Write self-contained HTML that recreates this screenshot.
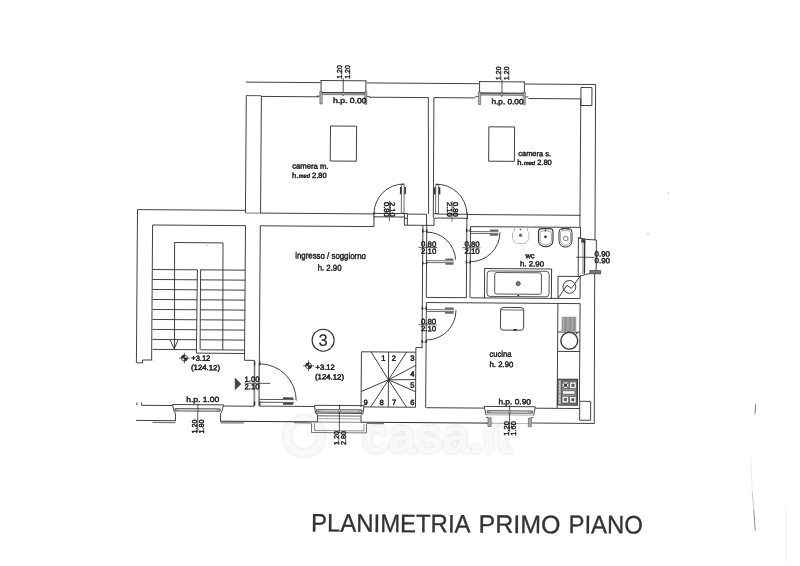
<!DOCTYPE html>
<html lang="it"><head><meta charset="utf-8"><title>Planimetria primo piano</title>
<style>
html,body{margin:0;padding:0;background:#fff}
body{width:800px;height:566px;overflow:hidden}
svg{display:block;font-family:"Liberation Sans",sans-serif;will-change:transform}
svg path,svg rect,svg circle,svg ellipse{stroke-linecap:butt}
</style></head><body>
<svg width="800" height="566" viewBox="0 0 800 566" fill="none">
<rect x="0" y="0" width="800" height="566" fill="#fff"/>
<defs><filter id="wm" x="-10%" y="-40%" width="120%" height="180%"><feGaussianBlur in="SourceAlpha" stdDeviation="2.2" result="b"/><feFlood flood-color="#000" flood-opacity="0.15"/><feComposite in2="b" operator="in"/><feMerge><feMergeNode/><feMergeNode in="SourceGraphic"/></feMerge></filter></defs>
<g filter="url(#wm)">
<circle cx="304" cy="436" r="17" stroke="#f9f9f9" stroke-width="6" fill="none"/>
<text x="362" y="453" font-size="50" fill="#f9f9f9" textLength="150" lengthAdjust="spacingAndGlyphs" transform="rotate(0 362 453)" font-weight="bold">casa.it</text>
</g>
<path d="M245.8 82.1L320.5 82.64" stroke="#2b2b2b" stroke-width="0.9"/>
<path d="M366.5 82.9L478.75 83.71" stroke="#2b2b2b" stroke-width="0.9"/>
<path d="M525 84L595.6 84.51" stroke="#2b2b2b" stroke-width="0.9"/>
<path d="M595.6 84.5L595 240" stroke="#2b2b2b" stroke-width="0.9"/>
<path d="M594.7 273.8L594.25 423.5" stroke="#2b2b2b" stroke-width="0.9"/>
<path d="M136 420.4L175.4 420.68" stroke="#2b2b2b" stroke-width="0.9"/>
<path d="M220.5 421.2L317.4 421.9" stroke="#2b2b2b" stroke-width="1"/>
<path d="M361 422.2L488 423.11" stroke="#2b2b2b" stroke-width="1"/>
<path d="M531 423L594.25 423.46" stroke="#2b2b2b" stroke-width="0.9"/>
<path d="M246.3 95.6L245.45 213" stroke="#2b2b2b" stroke-width="0.9"/>
<path d="M261.4 96L260.56 213" stroke="#2b2b2b" stroke-width="0.9"/>
<path d="M245.5 213L260.3 213.11" stroke="#555" stroke-width="0.8"/>
<path d="M137.5 209.6L245.5 210.38" stroke="#2b2b2b" stroke-width="0.9"/>
<path d="M137.5 209.6L136.4 362.8" stroke="#2b2b2b" stroke-width="0.9"/>
<path d="M246.3 95.6L261.3 95.71" stroke="#2b2b2b" stroke-width="0.8"/>
<path d="M261.3 96.4L319 96.82" stroke="#2b2b2b" stroke-width="0.9"/>
<path d="M369 97.2L428 97.62" stroke="#2b2b2b" stroke-width="0.9"/>
<path d="M433.75 97.6L475.4 97.9" stroke="#2b2b2b" stroke-width="0.9"/>
<path d="M528.5 98.5L580.8 98.88" stroke="#2b2b2b" stroke-width="0.9"/>
<path d="M428.3 97.2L428.6 214" stroke="#2b2b2b" stroke-width="0.9"/>
<path d="M433.9 97.6L433.3 217.8" stroke="#2b2b2b" stroke-width="0.9"/>
<path d="M580.8 98.9L579.88 226.8" stroke="#2b2b2b" stroke-width="0.9"/>
<rect x="581" y="87.5" width="11" height="18" stroke="#2b2b2b" stroke-width="0.9" fill="none" transform="rotate(0.41 581 87.5)"/>
<path d="M260.3 213.1L374 213.92" stroke="#2b2b2b" stroke-width="0.9"/>
<path d="M260.2 225.8L374 226.62" stroke="#2b2b2b" stroke-width="0.9"/>
<path d="M374 218L373.94 226.6" stroke="#2b2b2b" stroke-width="0.9"/>
<path d="M467.3 214.5L580.5 215.32" stroke="#2b2b2b" stroke-width="0.9"/>
<path d="M470.5 226.6L580.5 227.39" stroke="#2b2b2b" stroke-width="0.9"/>
<path d="M373.75 213.4L401.4 213.6" stroke="#2b2b2b" stroke-width="0.9"/>
<path d="M373.75 216.8L404.4 217.02" stroke="#2b2b2b" stroke-width="0.9"/>
<path d="M404.4 213.5L404.4 225.2L434 225.4L434 218.2L437.2 218.2" stroke="#2b2b2b" stroke-width="0.9" fill="none"/>
<path d="M404.4 218.3L407.4 218.32" stroke="#2b2b2b" stroke-width="0.9"/>
<path d="M401.4 213.4L407.4 213.44" stroke="#2b2b2b" stroke-width="0.9"/>
<path d="M407.4 213.5L407.32 225.2" stroke="#2b2b2b" stroke-width="0.9"/>
<path d="M407.4 214.1L426.6 214.24" stroke="#2b2b2b" stroke-width="0.9"/>
<path d="M426.6 214.1L426.52 225.3" stroke="#2b2b2b" stroke-width="0.9"/>
<path d="M433.3 213.7L438.6 213.74" stroke="#2b2b2b" stroke-width="0.9"/>
<path d="M438.6 214.1L467.3 214.31" stroke="#2b2b2b" stroke-width="0.9"/>
<path d="M437.2 218L467.3 218.22" stroke="#2b2b2b" stroke-width="0.9"/>
<path d="M467.3 212.5L467.25 219" stroke="#2b2b2b" stroke-width="1.1"/>
<path d="M374 212L373.95 218.3" stroke="#2b2b2b" stroke-width="1.1"/>
<path d="M422.9 225.3L422.02 347.6" stroke="#2b2b2b" stroke-width="0.9"/>
<path d="M426.8 225.3L426.28 297.5" stroke="#2b2b2b" stroke-width="0.9"/>
<path d="M466.9 218L466.33 297.5" stroke="#2b2b2b" stroke-width="0.9"/>
<path d="M470.5 226.6L469.99 297.8" stroke="#2b2b2b" stroke-width="0.9"/>
<path d="M426.6 297.4L466.6 297.69" stroke="#2b2b2b" stroke-width="0.9"/>
<path d="M470.5 297.8L580.3 298.59" stroke="#2b2b2b" stroke-width="0.9"/>
<path d="M580.6 226.8L580.52 237.8" stroke="#2b2b2b" stroke-width="0.9"/>
<path d="M426.4 302.5L580.2 303.61" stroke="#2b2b2b" stroke-width="0.9"/>
<path d="M426.4 302.6L425.64 407.7" stroke="#2b2b2b" stroke-width="0.9"/>
<path d="M426.2 407.7L484.2 408.12" stroke="#2b2b2b" stroke-width="0.9"/>
<path d="M535.4 408.2L579.5 408.52" stroke="#2b2b2b" stroke-width="0.9"/>
<path d="M580.1 303.7L579.4 401.2" stroke="#2b2b2b" stroke-width="0.9"/>
<path d="M557.9 303.5L557.15 408" stroke="#2b2b2b" stroke-width="0.9"/>
<rect x="579.7" y="401.3" width="11" height="18.9" stroke="#2b2b2b" stroke-width="0.9" fill="none" transform="rotate(0.41 579.7 401.3)"/>
<path d="M422.8 347.6L415.9 347.6L415.5 407.1" stroke="#2b2b2b" stroke-width="0.9" fill="none"/>
<path d="M244.5 360.3L254.4 360.4L254.1 406.2" stroke="#2b2b2b" stroke-width="0.9" fill="none"/>
<path d="M260.3 225.8L259 406.3" stroke="#2b2b2b" stroke-width="0.9"/>
<path d="M259.4 406.1L314.5 406.5" stroke="#2b2b2b" stroke-width="0.9"/>
<path d="M364 406.9L415.6 407.27" stroke="#2b2b2b" stroke-width="0.9"/>
<path d="M152.5 225L245.5 225.67" stroke="#2b2b2b" stroke-width="0.9"/>
<path d="M152.6 225L151.63 360" stroke="#2b2b2b" stroke-width="0.9"/>
<path d="M245.5 225.7L244.53 360.3" stroke="#2b2b2b" stroke-width="0.9"/>
<path d="M152.4 360L142.5 360L142.5 362.8L136.9 362.8" stroke="#2b2b2b" stroke-width="0.9" fill="none"/>
<path d="M141.5 405.3L172.5 405.52" stroke="#2b2b2b" stroke-width="0.9"/>
<path d="M136.9 402.6L136.88 405.3" stroke="#2b2b2b" stroke-width="0.9"/>
<path d="M141.5 402.6L141.48 405.3" stroke="#2b2b2b" stroke-width="0.9"/>
<path d="M223.5 406L254.2 406.22" stroke="#2b2b2b" stroke-width="0.9"/>
<path d="M174.5 349.4L174.6 242.5L223 242.9L222.8 349.7" stroke="#2b2b2b" stroke-width="0.9" fill="none"/>
<path d="M152.5 269.5L197.3 269.82" stroke="#2b2b2b" stroke-width="0.9"/>
<path d="M200.4 269.85L245.3 270.17" stroke="#2b2b2b" stroke-width="0.9"/>
<path d="M152.5 279.49L197.2 279.81" stroke="#2b2b2b" stroke-width="0.9"/>
<path d="M200.4 279.84L245.23 280.16" stroke="#2b2b2b" stroke-width="0.9"/>
<path d="M152.5 289.48L197.1 289.8" stroke="#2b2b2b" stroke-width="0.9"/>
<path d="M200.4 289.83L245.16 290.15" stroke="#2b2b2b" stroke-width="0.9"/>
<path d="M152.5 299.47L197 299.79" stroke="#2b2b2b" stroke-width="0.9"/>
<path d="M200.4 299.82L245.09 300.14" stroke="#2b2b2b" stroke-width="0.9"/>
<path d="M152.5 309.46L196.9 309.78" stroke="#2b2b2b" stroke-width="0.9"/>
<path d="M200.4 309.81L245.02 310.13" stroke="#2b2b2b" stroke-width="0.9"/>
<path d="M152.5 319.45L196.8 319.77" stroke="#2b2b2b" stroke-width="0.9"/>
<path d="M200.4 319.8L244.95 320.12" stroke="#2b2b2b" stroke-width="0.9"/>
<path d="M152.5 329.44L196.7 329.76" stroke="#2b2b2b" stroke-width="0.9"/>
<path d="M200.4 329.79L244.88 330.11" stroke="#2b2b2b" stroke-width="0.9"/>
<path d="M152.5 339.43L196.6 339.75" stroke="#2b2b2b" stroke-width="0.9"/>
<path d="M200.4 339.78L244.81 340.1" stroke="#2b2b2b" stroke-width="0.9"/>
<path d="M152.5 349.42L196.5 349.74" stroke="#2b2b2b" stroke-width="0.9"/>
<path d="M200.4 349.77L244.74 350.09" stroke="#2b2b2b" stroke-width="0.9"/>
<path d="M197.4 269.7L196.4 353.1L244.7 353.5" stroke="#2b2b2b" stroke-width="0.9" fill="none"/>
<path d="M200.6 269.8L200.1 349.7" stroke="#2b2b2b" stroke-width="0.9" fill="none"/>
<path d="M170.2 340L174.2 348.8L178 340" stroke="#2b2b2b" stroke-width="0.9" fill="none"/>
<path d="M361.45 351.8L415.9 352.19" stroke="#2b2b2b" stroke-width="0.9"/>
<path d="M361.45 351.8L361.05 407" stroke="#2b2b2b" stroke-width="0.9"/>
<path d="M388.6 351.9L388.3 407" stroke="#2b2b2b" stroke-width="0.9"/>
<path d="M388.5 379.8L371 351.85" stroke="#2b2b2b" stroke-width="0.9"/>
<path d="M388.5 379.8L406.6 352.1" stroke="#2b2b2b" stroke-width="0.9"/>
<path d="M388.5 379.8L415.8 365.4" stroke="#2b2b2b" stroke-width="0.9"/>
<path d="M388.5 379.8L415.7 379.6" stroke="#2b2b2b" stroke-width="0.9"/>
<path d="M388.5 379.8L415.6 391.7" stroke="#2b2b2b" stroke-width="0.9"/>
<path d="M388.5 379.8L406.4 407.1" stroke="#2b2b2b" stroke-width="0.9"/>
<path d="M388.5 379.8L370.8 406.9" stroke="#2b2b2b" stroke-width="0.9"/>
<path d="M388.5 379.8L361.3 391.5" stroke="#2b2b2b" stroke-width="0.9"/>
<rect x="401.5" y="184.3" width="2.7" height="29.2" stroke="#2b2b2b" stroke-width="0.7" fill="none" transform="rotate(0.41 401.5 184.3)"/>
<path d="M400.7 187L400.65 194.3" stroke="#333" stroke-width="1.5"/>
<path d="M405.2 187L405.15 194.3" stroke="#333" stroke-width="1.5"/>
<path d="M404.2 184A29.8 29.8 0 0 0 374 213.4" stroke="#2b2b2b" stroke-width="0.9" fill="none"/>
<rect x="435.8" y="184.5" width="2.8" height="29.2" stroke="#2b2b2b" stroke-width="0.7" fill="none" transform="rotate(0.41 435.8 184.5)"/>
<path d="M434.8 187.2L434.75 194.5" stroke="#333" stroke-width="1.5"/>
<path d="M439.6 187.2L439.55 194.5" stroke="#333" stroke-width="1.5"/>
<path d="M435.8 184.2A30.4 30.4 0 0 1 466.9 213.6" stroke="#2b2b2b" stroke-width="0.9" fill="none"/>
<path d="M426.8 260.65L453.8 260.84" stroke="#2b2b2b" stroke-width="0.7"/>
<path d="M426.8 262.55L453.8 262.74" stroke="#2b2b2b" stroke-width="0.7"/>
<path d="M445.4 259.4L453.4 259.46" stroke="#6a6a6a" stroke-width="1.7"/>
<path d="M445.4 263.9L453.4 263.96" stroke="#6a6a6a" stroke-width="1.7"/>
<path d="M426.8 232.1A29 29 0 0 1 455.6 259.6" stroke="#2b2b2b" stroke-width="0.9" fill="none"/>
<path d="M422.9 229.2L422.88 232.4" stroke="#2b2b2b" stroke-width="1.3"/>
<path d="M426.8 229.2L426.78 232.4" stroke="#2b2b2b" stroke-width="1.3"/>
<path d="M422.9 231.3L426.8 231.33" stroke="#2b2b2b" stroke-width="0.6"/>
<path d="M422.7 261.4L422.68 264.6" stroke="#2b2b2b" stroke-width="1.3"/>
<path d="M426.6 261.4L426.58 264.6" stroke="#2b2b2b" stroke-width="1.3"/>
<path d="M422.7 263.5L426.6 263.53" stroke="#2b2b2b" stroke-width="0.6"/>
<path d="M470.3 231.55L498.6 231.75" stroke="#2b2b2b" stroke-width="0.7"/>
<path d="M470.3 233.45L498.6 233.65" stroke="#2b2b2b" stroke-width="0.7"/>
<path d="M489.8 230.3L498.2 230.36" stroke="#6a6a6a" stroke-width="1.7"/>
<path d="M489.8 234.8L498.2 234.86" stroke="#6a6a6a" stroke-width="1.7"/>
<path d="M500 232.4A29.6 29.6 0 0 1 470.3 261.7" stroke="#2b2b2b" stroke-width="0.9" fill="none"/>
<path d="M466.6 228.7L466.58 231.9" stroke="#2b2b2b" stroke-width="1.3"/>
<path d="M470.4 228.7L470.38 231.9" stroke="#2b2b2b" stroke-width="1.3"/>
<path d="M466.6 230.8L470.4 230.83" stroke="#2b2b2b" stroke-width="0.6"/>
<path d="M466.4 260.6L466.38 263.8" stroke="#2b2b2b" stroke-width="1.3"/>
<path d="M470.2 260.6L470.18 263.8" stroke="#2b2b2b" stroke-width="1.3"/>
<path d="M466.4 262.7L470.2 262.73" stroke="#2b2b2b" stroke-width="0.6"/>
<path d="M426.3 309.55L454 309.75" stroke="#2b2b2b" stroke-width="0.7"/>
<path d="M426.3 311.45L454 311.65" stroke="#2b2b2b" stroke-width="0.7"/>
<path d="M445 308.3L453.6 308.36" stroke="#6a6a6a" stroke-width="1.7"/>
<path d="M445 312.8L453.6 312.86" stroke="#6a6a6a" stroke-width="1.7"/>
<path d="M456 310.3A29.7 29.7 0 0 1 426.3 340" stroke="#2b2b2b" stroke-width="0.9" fill="none"/>
<path d="M422.4 306.6L422.38 309.8" stroke="#2b2b2b" stroke-width="1.3"/>
<path d="M426.3 306.6L426.28 309.8" stroke="#2b2b2b" stroke-width="1.3"/>
<path d="M422.4 308.7L426.3 308.73" stroke="#2b2b2b" stroke-width="0.6"/>
<path d="M422.2 339.9L422.18 343.1" stroke="#2b2b2b" stroke-width="1.3"/>
<path d="M426.1 339.9L426.08 343.1" stroke="#2b2b2b" stroke-width="1.3"/>
<path d="M422.2 342L426.1 342.03" stroke="#2b2b2b" stroke-width="0.6"/>
<path d="M259.4 399.4L293.9 399.65" stroke="#2b2b2b" stroke-width="0.8"/>
<path d="M259.4 402.2L293.9 402.45" stroke="#2b2b2b" stroke-width="0.8"/>
<path d="M283 398.2L293.3 398.27" stroke="#444" stroke-width="1.7"/>
<path d="M283 403.8L293.3 403.87" stroke="#444" stroke-width="1.7"/>
<path d="M259.4 363.8A36.8 36.8 0 0 1 296.2 400.6" stroke="#2b2b2b" stroke-width="0.9" fill="none"/>
<path d="M255.2 363L254.91 403.5" stroke="#999" stroke-width="0.5"/>
<path d="M258.6 363L258.31 403.5" stroke="#999" stroke-width="0.5"/>
<path d="M254.6 361.2L254.57 365.2" stroke="#2b2b2b" stroke-width="1.3"/>
<path d="M259.8 361.2L259.77 365.2" stroke="#2b2b2b" stroke-width="1.3"/>
<path d="M254.6 401.6L254.57 405.6" stroke="#2b2b2b" stroke-width="1.3"/>
<path d="M259.8 401.6L259.77 405.6" stroke="#2b2b2b" stroke-width="1.3"/>
<path d="M320.5 80.5L366.5 80.83" stroke="#2b2b2b" stroke-width="0.9"/>
<path d="M321.1 80.5L321.01 92.5" stroke="#2b2b2b" stroke-width="0.9"/>
<path d="M365.9 80.83L365.81 92.8" stroke="#2b2b2b" stroke-width="0.9"/>
<rect x="322.5" y="92.5" width="42" height="2.1" stroke="#444" stroke-width="0.6" fill="#b5b5b5" transform="rotate(0.41 322.5 92.5)"/>
<path d="M319.5 92.5L367 92.84" stroke="#2b2b2b" stroke-width="0.9"/>
<rect x="319.9" y="91.5" width="2.4" height="12.5" stroke="#444" stroke-width="0.5" fill="#b0b0b0" transform="rotate(0.41 319.9 91.5)"/>
<rect x="364.7" y="91.8" width="2.2" height="12.5" stroke="#444" stroke-width="0.5" fill="#b0b0b0" transform="rotate(0.41 364.7 91.8)"/>
<path d="M316.7 96.1L319.9 96.12" stroke="#2b2b2b" stroke-width="0.8"/>
<path d="M366.9 96.4L369.9 96.42" stroke="#2b2b2b" stroke-width="0.8"/>
<path d="M343.3 78.5L343.17 96" stroke="#2b2b2b" stroke-width="0.8"/>
<circle cx="343.2" cy="93.7" r="1" stroke="#2b2b2b" stroke-width="0.5" fill="#fff"/>
<path d="M479 81.6L525 81.93" stroke="#2b2b2b" stroke-width="0.9"/>
<path d="M479.6 81.6L479.52 93" stroke="#2b2b2b" stroke-width="0.9"/>
<path d="M524.4 81.93L524.32 93.3" stroke="#2b2b2b" stroke-width="0.9"/>
<rect x="481" y="93" width="42" height="2.1" stroke="#444" stroke-width="0.6" fill="#b5b5b5" transform="rotate(0.41 481 93)"/>
<path d="M478 93L525.5 93.34" stroke="#2b2b2b" stroke-width="0.9"/>
<rect x="478.4" y="92" width="2.4" height="12.5" stroke="#444" stroke-width="0.5" fill="#b0b0b0" transform="rotate(0.41 478.4 92)"/>
<rect x="523.2" y="92.3" width="2.2" height="12.5" stroke="#444" stroke-width="0.5" fill="#b0b0b0" transform="rotate(0.41 523.2 92.3)"/>
<path d="M475.2 96.6L478.4 96.62" stroke="#2b2b2b" stroke-width="0.8"/>
<path d="M525.4 96.9L528.4 96.92" stroke="#2b2b2b" stroke-width="0.8"/>
<path d="M502 79.6L501.87 97" stroke="#2b2b2b" stroke-width="0.8"/>
<circle cx="501.9" cy="94.2" r="1" stroke="#2b2b2b" stroke-width="0.5" fill="#fff"/>
<path d="M172.5 404.5L223.5 404.87" stroke="#2b2b2b" stroke-width="0.9"/>
<path d="M172.5 404.5L174 411L175.5 413.5L175.4 421.3" stroke="#2b2b2b" stroke-width="0.9" fill="none"/>
<path d="M223.5 404.9L222 411.3L220.6 413.8L220.5 421.6" stroke="#2b2b2b" stroke-width="0.9" fill="none"/>
<rect x="175" y="408.5" width="45.2" height="2.5" stroke="#333" stroke-width="0.7" fill="#b5b5b5" transform="rotate(0.41 175 408.5)"/>
<path d="M179 409.85L216.2 410.12" stroke="#e2e2e2" stroke-width="0.8"/>
<path d="M197.9 403.5L197.69 432" stroke="#2b2b2b" stroke-width="0.8"/>
<circle cx="197.85" cy="410" r="1" stroke="#2b2b2b" stroke-width="0.5" fill="#fff"/>
<path d="M152.5 422.4L175.4 422.56" stroke="#777" stroke-width="1.3"/>
<path d="M220.5 422.8L244 422.97" stroke="#777" stroke-width="1.3"/>
<path d="M484.2 406.4L535.4 406.77" stroke="#2b2b2b" stroke-width="0.9"/>
<path d="M484.2 406.4L485.8 413.8L486.2 415.2" stroke="#2b2b2b" stroke-width="0.9" fill="none"/>
<path d="M535.4 406.8L533.9 414.1L533.5 415.5" stroke="#2b2b2b" stroke-width="0.9" fill="none"/>
<rect x="487.2" y="410.6" width="45.2" height="2.4" stroke="#333" stroke-width="0.7" fill="#b5b5b5" transform="rotate(0.41 487.2 410.6)"/>
<path d="M491.2 411.9L528.4 412.17" stroke="#e2e2e2" stroke-width="0.8"/>
<path d="M486.2 414.8L533.5 415.14" stroke="#888" stroke-width="0.7"/>
<path d="M488 423.3L530 423.6" stroke="#999" stroke-width="0.7"/>
<rect x="488" y="417.8" width="3.2" height="8.7" stroke="#555" stroke-width="0.6" fill="#aaa" transform="rotate(0.41 488 417.8)"/>
<rect x="528.4" y="418" width="3" height="8.7" stroke="#555" stroke-width="0.6" fill="#aaa" transform="rotate(0.41 528.4 418)"/>
<path d="M486 417.4L488 417.41" stroke="#2b2b2b" stroke-width="0.8"/>
<path d="M531.4 417.7L533.4 417.71" stroke="#2b2b2b" stroke-width="0.8"/>
<path d="M509.7 405L509.51 431.7" stroke="#2b2b2b" stroke-width="0.8"/>
<circle cx="509.65" cy="411.7" r="1" stroke="#2b2b2b" stroke-width="0.5" fill="#fff"/>
<path d="M314.5 405.3L364 405.66" stroke="#2b2b2b" stroke-width="0.9"/>
<path d="M314.5 405.3L315.5 413L317.5 415L317.4 422" stroke="#2b2b2b" stroke-width="0.9" fill="none"/>
<path d="M364 405.7L363 413.3L361.1 415.3L361 422.3" stroke="#2b2b2b" stroke-width="0.9" fill="none"/>
<rect x="316.5" y="409.5" width="45.5" height="2.5" stroke="#333" stroke-width="0.7" fill="#b5b5b5" transform="rotate(0.41 316.5 409.5)"/>
<path d="M320.5 410.85L358 411.12" stroke="#e2e2e2" stroke-width="0.8"/>
<path d="M316 413.2L362.5 413.53" stroke="#2b2b2b" stroke-width="0.8"/>
<path d="M318 415.8L361 416.11" stroke="#8c8c8c" stroke-width="1.4"/>
<path d="M318 418.6L361 418.91" stroke="#999" stroke-width="0.9"/>
<path d="M317.4 422L361 422.31" stroke="#777" stroke-width="0.9"/>
<path d="M311.5 423.5L311.5 432.5L366.5 432.9L366.5 423.9" stroke="#666" stroke-width="0.9" fill="none"/>
<path d="M314.5 423.5L314.5 430.5L364 430.9L364 423.9" stroke="#777" stroke-width="0.8" fill="none"/>
<path d="M339.5 404.5L339.29 433" stroke="#2b2b2b" stroke-width="0.8"/>
<circle cx="339.46" cy="410.6" r="1" stroke="#2b2b2b" stroke-width="0.5" fill="#fff"/>
<path d="M294 422.7L311.4 422.83" stroke="#777" stroke-width="1.3"/>
<path d="M366.6 423.4L384 423.53" stroke="#777" stroke-width="1.3"/>
<path d="M580.6 237.8L578.4 237.8L578.2 276.4" stroke="#2b2b2b" stroke-width="0.9" fill="none"/>
<path d="M578.4 237.8L586.7 239.4L596.4 240" stroke="#2b2b2b" stroke-width="0.9" fill="none"/>
<path d="M596.4 240L596.18 270.3" stroke="#2b2b2b" stroke-width="0.9"/>
<rect x="581.6" y="239.2" width="3.6" height="3.2" stroke="#2b2b2b" stroke-width="0.5" fill="#444" transform="rotate(0.41 581.6 239.2)"/>
<path d="M584.6 242L584.37 273.8" stroke="#333" stroke-width="1.5"/>
<path d="M582.8 242L582.57 273.8" stroke="#777" stroke-width="0.6"/>
<path d="M579.7 276.1L588.5 273.8L590 273.8" stroke="#2b2b2b" stroke-width="0.9" fill="none"/>
<rect x="589.8" y="270.4" width="10.9" height="3.4" stroke="#2b2b2b" stroke-width="0.6" fill="#777" transform="rotate(0.41 589.8 270.4)"/>
<path d="M576.2 257.2L594.6 257.33" stroke="#2b2b2b" stroke-width="0.8"/>
<rect x="330.5" y="126" width="26.1" height="35" stroke="#2b2b2b" stroke-width="0.9" fill="none" transform="rotate(0.41 330.5 126)"/>
<rect x="488.9" y="126.8" width="25.7" height="34.4" stroke="#2b2b2b" stroke-width="0.9" fill="none" transform="rotate(0.41 488.9 126.8)"/>
<path d="M484.5 298.1L484.6 268.5L551.6 269L551.4 298.5" stroke="#2b2b2b" stroke-width="0.9" fill="none"/>
<rect x="487.2" y="270.9" width="62" height="25.5" stroke="#2b2b2b" stroke-width="0.8" fill="none" rx="3" transform="rotate(0.41 487.2 270.9)"/>
<rect x="494.8" y="272.5" width="46.7" height="21.5" stroke="#2b2b2b" stroke-width="0.8" fill="none" rx="2" transform="rotate(0.41 494.8 272.5)"/>
<circle cx="518.2" cy="283.6" r="2.1" stroke="#333" stroke-width="0.7" fill="#777"/>
<path d="M517.3 295.4L519.2 295.41" stroke="#2b2b2b" stroke-width="1.4"/>
<path d="M580.2 276.5L558 276.3L558 298" stroke="#2b2b2b" stroke-width="0.9" fill="none"/>
<path d="M580.2 276.4L580.04 298.2" stroke="#2b2b2b" stroke-width="0.9"/>
<circle cx="569.4" cy="286.9" r="6.4" stroke="#2b2b2b" stroke-width="0.9" fill="none"/>
<path d="M558 298.2L567 285.3L571.4 288.3L580.2 276.2" stroke="#2b2b2b" stroke-width="0.9" fill="none"/>
<path d="M514.5 227.5V231C512.6 231.6 512.5 233 512.5 236C512.5 241 515 243.6 519 243.6H522.5C526.5 243.6 529 241 529 236C529 233 528.9 231.6 527.5 231V227.5" stroke="#ababab" stroke-width="0.8" fill="none"/>
<circle cx="520.5" cy="229.6" r="0.7" stroke="#555" stroke-width="0.4" fill="#555"/>
<circle cx="520.6" cy="235.3" r="1.4" stroke="#555" stroke-width="0.5" fill="#666"/>
<path d="M541.5 228.6H550Q553 228.6 553 232V240Q553 246.6 545.75 246.6Q538.5 246.6 538.5 240V232Q538.5 228.6 541.5 228.6Z" stroke="#333" stroke-width="1.1" fill="none"/>
<path d="M542.5 231H549Q551.4 231 551.4 233.5V240Q551.4 244.8 545.75 244.8Q540.1 244.8 540.1 240V233.5Q540.1 231 542.5 231Z" stroke="#666" stroke-width="0.6" fill="none"/>
<circle cx="545.4" cy="230.3" r="0.6" stroke="#2b2b2b" stroke-width="0.4" fill="#333"/>
<circle cx="545.4" cy="236.8" r="1.1" stroke="#2b2b2b" stroke-width="0.5" fill="#333"/>
<path d="M561.3 229.6Q565.3 227.2 569.4 229.6" stroke="#555" stroke-width="0.8" fill="none"/>
<path d="M562 228.6H569Q572 228.6 572 232.5V240Q572 247 565.5 247Q559 247 559 240V232.5Q559 228.6 562 228.6Z" stroke="#333" stroke-width="1" fill="none"/>
<path d="M562.8 230.6H568.3Q570.5 230.6 570.5 233.5V240Q570.5 245.3 565.5 245.3Q560.5 245.3 560.5 240V233.5Q560.5 230.6 562.8 230.6Z" stroke="#666" stroke-width="0.6" fill="none"/>
<ellipse cx="565.7" cy="238.5" rx="2.4" ry="2.2" stroke="#777" stroke-width="1" fill="none"/>
<path d="M500.6 309.9Q500.8 307.5 503.6 307.4L520.6 307.5Q523.5 307.6 523.7 310.1L523.6 327.8Q523.5 330.2 521 330.2L503 330.1Q500.6 330 500.5 327.6Z" stroke="#2b2b2b" stroke-width="0.9" fill="none"/>
<path d="M500.6 309.9L523.7 310.07" stroke="#2b2b2b" stroke-width="0.7"/>
<path d="M513.5 329.7L517 329.73" stroke="#2b2b2b" stroke-width="1.4"/>
<path d="M557.9 332L580 332.16" stroke="#2b2b2b" stroke-width="0.9"/>
<path d="M557.9 351.4L579.8 351.56" stroke="#2b2b2b" stroke-width="0.9"/>
<rect x="562" y="317" width="13.9" height="14" stroke="#8a8a8a" stroke-width="0.5" fill="#9a9a9a" transform="rotate(0.41 562 317)"/>
<path d="M563.6 317.6L563.51 330.6" stroke="#b4b4b4" stroke-width="0.8"/>
<path d="M565.8 317.6L565.71 330.6" stroke="#888" stroke-width="0.8"/>
<path d="M567.9 317.6L567.81 330.6" stroke="#b0b0b0" stroke-width="0.8"/>
<path d="M570.3 317.6L570.21 330.6" stroke="#8a8a8a" stroke-width="0.8"/>
<path d="M572.4 317.6L572.31 330.6" stroke="#b2b2b2" stroke-width="0.8"/>
<path d="M574.4 317.6L574.31 330.6" stroke="#909090" stroke-width="0.8"/>
<circle cx="569.3" cy="340.7" r="8.4" stroke="#333" stroke-width="1.4" fill="none"/>
<circle cx="576.7" cy="333.3" r="0.7" stroke="#2b2b2b" stroke-width="0.4" fill="#222"/>
<rect x="557.8" y="379.2" width="19.7" height="25.9" stroke="#2e2e2e" stroke-width="1" fill="#a0a0a0" transform="rotate(0.41 557.8 379.2)"/>
<rect x="561.6" y="380.6" width="15" height="23.2" stroke="#3a3a3a" stroke-width="0.6" fill="#969696" transform="rotate(0.41 561.6 380.6)"/>
<rect x="562.2" y="381.9" width="6.6" height="6.6" stroke="#333" stroke-width="0.6" fill="#f6f6f6" transform="rotate(0.41 562.2 381.9)"/>
<rect x="564.4" y="384.1" width="2.2" height="2.2" stroke="#333" stroke-width="0.7" fill="#777" transform="rotate(0.41 564.4 384.1)"/>
<rect x="569.7" y="382" width="6.6" height="6.6" stroke="#333" stroke-width="0.6" fill="#f6f6f6" transform="rotate(0.41 569.7 382)"/>
<rect x="571.9" y="384.2" width="2.2" height="2.2" stroke="#333" stroke-width="0.7" fill="#777" transform="rotate(0.41 571.9 384.2)"/>
<rect x="562.1" y="396.3" width="6.6" height="6.6" stroke="#333" stroke-width="0.6" fill="#f6f6f6" transform="rotate(0.41 562.1 396.3)"/>
<rect x="564.3" y="398.5" width="2.2" height="2.2" stroke="#333" stroke-width="0.7" fill="#777" transform="rotate(0.41 564.3 398.5)"/>
<rect x="569.6" y="396.4" width="6.6" height="6.6" stroke="#333" stroke-width="0.6" fill="#f6f6f6" transform="rotate(0.41 569.6 396.4)"/>
<rect x="571.8" y="398.6" width="2.2" height="2.2" stroke="#333" stroke-width="0.7" fill="#777" transform="rotate(0.41 571.8 398.6)"/>
<path d="M562.7 382.4L568.3 388" stroke="#222" stroke-width="0.9"/>
<path d="M568.3 382.4L562.7 388" stroke="#222" stroke-width="0.9"/>
<rect x="562.5" y="390.7" width="12.5" height="3.5" stroke="#3a3a3a" stroke-width="0.6" fill="#f8f8f8" transform="rotate(0.41 562.5 390.7)"/>
<rect x="559" y="381.5" width="1.4" height="1.6" stroke="#aaa" stroke-width="0.2" fill="#e6e6e6" transform="rotate(0.41 559 381.5)"/>
<rect x="559" y="384.6" width="1.4" height="1.6" stroke="#aaa" stroke-width="0.2" fill="#e6e6e6" transform="rotate(0.41 559 384.6)"/>
<rect x="559" y="387.8" width="1.4" height="1.6" stroke="#aaa" stroke-width="0.2" fill="#e6e6e6" transform="rotate(0.41 559 387.8)"/>
<rect x="559" y="391" width="1.4" height="1.6" stroke="#aaa" stroke-width="0.2" fill="#e6e6e6" transform="rotate(0.41 559 391)"/>
<rect x="559" y="395.5" width="1.4" height="1.6" stroke="#aaa" stroke-width="0.2" fill="#e6e6e6" transform="rotate(0.41 559 395.5)"/>
<rect x="559" y="398.6" width="1.4" height="1.6" stroke="#aaa" stroke-width="0.2" fill="#e6e6e6" transform="rotate(0.41 559 398.6)"/>
<rect x="559" y="401.7" width="1.4" height="1.6" stroke="#aaa" stroke-width="0.2" fill="#e6e6e6" transform="rotate(0.41 559 401.7)"/>
<circle cx="184.4" cy="358.1" r="3" stroke="#2b2b2b" stroke-width="0.8" fill="none"/>
<path d="M179 358.1L189.8 358.1" stroke="#2b2b2b" stroke-width="0.7"/>
<path d="M184.4 352.7L184.4 363.5" stroke="#2b2b2b" stroke-width="0.7"/>
<path d="M184.4 358.1L184.4 355.1A3 3 0 0 0 181.4 358.1Z" stroke="#2b2b2b" stroke-width="0.3" fill="#2b2b2b"/>
<path d="M184.4 358.1L184.4 361.1A3 3 0 0 0 187.4 358.1Z" stroke="#2b2b2b" stroke-width="0.3" fill="#2b2b2b"/>
<circle cx="308.6" cy="365.8" r="3" stroke="#2b2b2b" stroke-width="0.8" fill="none"/>
<path d="M303.2 365.8L314 365.8" stroke="#2b2b2b" stroke-width="0.7"/>
<path d="M308.6 360.4L308.6 371.2" stroke="#2b2b2b" stroke-width="0.7"/>
<path d="M308.6 365.8L308.6 362.8A3 3 0 0 0 305.6 365.8Z" stroke="#2b2b2b" stroke-width="0.3" fill="#2b2b2b"/>
<path d="M308.6 365.8L308.6 368.8A3 3 0 0 0 311.6 365.8Z" stroke="#2b2b2b" stroke-width="0.3" fill="#2b2b2b"/>
<circle cx="323.1" cy="340.2" r="11" stroke="#2b2b2b" stroke-width="1.1" fill="none"/>
<path d="M235.1 378.1L241 383.9L235.1 389.6Z" stroke="#2b2b2b" stroke-width="0.5" fill="#444"/>
<path d="M244.5 383.2L270.3 383.39" stroke="#2b2b2b" stroke-width="0.8"/>
<text x="292.2" y="168.5" font-size="7.7" fill="#222" textLength="36.3" lengthAdjust="spacingAndGlyphs" transform="rotate(0.41 292.2 168.5)" stroke="#222" stroke-width="0.45">camera m.</text>
<text x="292" y="178" font-size="7.7" fill="#222" textLength="6.2" lengthAdjust="spacingAndGlyphs" transform="rotate(0.41 292 178)" stroke="#222" stroke-width="0.45">h.</text>
<text x="298.7" y="177.8" font-size="5.6" fill="#222" textLength="11.3" lengthAdjust="spacingAndGlyphs" transform="rotate(0.41 298.7 177.8)" stroke="#222" stroke-width="0.45" font-style="italic">med</text>
<text x="312" y="178" font-size="7.7" fill="#222" textLength="14.6" lengthAdjust="spacingAndGlyphs" transform="rotate(0.41 312 178)" stroke="#222" stroke-width="0.45">2.80</text>
<text x="518.3" y="156" font-size="7.7" fill="#222" textLength="32.7" lengthAdjust="spacingAndGlyphs" transform="rotate(0.41 518.3 156)" stroke="#222" stroke-width="0.45">camera s.</text>
<text x="517.2" y="164.9" font-size="7.7" fill="#222" textLength="6.2" lengthAdjust="spacingAndGlyphs" transform="rotate(0.41 517.2 164.9)" stroke="#222" stroke-width="0.45">h.</text>
<text x="524" y="164.9" font-size="5.6" fill="#222" textLength="11" lengthAdjust="spacingAndGlyphs" transform="rotate(0.41 524 164.9)" stroke="#222" stroke-width="0.45" font-style="italic">med</text>
<text x="537.2" y="165" font-size="7.7" fill="#222" textLength="14.6" lengthAdjust="spacingAndGlyphs" transform="rotate(0.41 537.2 165)" stroke="#222" stroke-width="0.45">2.80</text>
<text x="295.2" y="258.5" font-size="9" fill="#222" textLength="70.8" lengthAdjust="spacingAndGlyphs" transform="rotate(0.41 295.2 258.5)" stroke="#222" stroke-width="0.45">ingresso / soggiorno</text>
<text x="317.7" y="270.6" font-size="8.6" fill="#222" textLength="23.8" lengthAdjust="spacingAndGlyphs" transform="rotate(0.41 317.7 270.6)" stroke="#222" stroke-width="0.45">h. 2.90</text>
<text x="525.5" y="258.2" font-size="7.4" fill="#222" textLength="9" lengthAdjust="spacingAndGlyphs" transform="rotate(0.41 525.5 258.2)" stroke="#222" stroke-width="0.45">wc</text>
<text x="520" y="266.3" font-size="7.4" fill="#222" textLength="24" lengthAdjust="spacingAndGlyphs" transform="rotate(0.41 520 266.3)" stroke="#222" stroke-width="0.45">h. 2.90</text>
<text x="489.5" y="356.7" font-size="8.2" fill="#222" textLength="21.9" lengthAdjust="spacingAndGlyphs" transform="rotate(0.41 489.5 356.7)" stroke="#222" stroke-width="0.45">cucina</text>
<text x="489.5" y="367" font-size="7.9" fill="#222" textLength="23.8" lengthAdjust="spacingAndGlyphs" transform="rotate(0.41 489.5 367)" stroke="#222" stroke-width="0.45">h. 2.90</text>
<text x="333" y="103" font-size="7.5" fill="#222" textLength="33.5" lengthAdjust="spacingAndGlyphs" transform="rotate(0.41 333 103)" stroke="#222" stroke-width="0.45">h.p.  0.00</text>
<text x="491.5" y="104.1" font-size="7.5" fill="#222" textLength="32" lengthAdjust="spacingAndGlyphs" transform="rotate(0.41 491.5 104.1)" stroke="#222" stroke-width="0.45">h.p.  0.00</text>
<text x="186.3" y="401.9" font-size="7.5" fill="#222" textLength="33" lengthAdjust="spacingAndGlyphs" transform="rotate(0.41 186.3 401.9)" stroke="#222" stroke-width="0.45">h.p.  1.00</text>
<text x="498.4" y="404.2" font-size="7.5" fill="#222" textLength="32.6" lengthAdjust="spacingAndGlyphs" transform="rotate(0.41 498.4 404.2)" stroke="#222" stroke-width="0.45">h.p.  0.90</text>
<text x="191.3" y="360.6" font-size="7.5" fill="#222" textLength="19" lengthAdjust="spacingAndGlyphs" transform="rotate(0.41 191.3 360.6)" stroke="#222" stroke-width="0.5">+3.12</text>
<text x="191" y="370" font-size="7.5" fill="#222" textLength="29" lengthAdjust="spacingAndGlyphs" transform="rotate(0.41 191 370)" stroke="#222" stroke-width="0.5">(124.12)</text>
<text x="315.6" y="369.7" font-size="7.5" fill="#222" textLength="19" lengthAdjust="spacingAndGlyphs" transform="rotate(0.41 315.6 369.7)" stroke="#222" stroke-width="0.5">+3.12</text>
<text x="315" y="379.3" font-size="7.5" fill="#222" textLength="29" lengthAdjust="spacingAndGlyphs" transform="rotate(0.41 315 379.3)" stroke="#222" stroke-width="0.5">(124.12)</text>
<text x="244.5" y="381.7" font-size="7.5" fill="#222" textLength="14.9" lengthAdjust="spacingAndGlyphs" transform="rotate(0.41 244.5 381.7)" stroke="#222" stroke-width="0.45">1.00</text>
<text x="244.5" y="389.2" font-size="7.5" fill="#222" textLength="14.9" lengthAdjust="spacingAndGlyphs" transform="rotate(0.41 244.5 389.2)" stroke="#222" stroke-width="0.45">2.10</text>
<text x="421.1" y="246.6" font-size="7.5" fill="#222" textLength="15.2" lengthAdjust="spacingAndGlyphs" transform="rotate(0.41 421.1 246.6)" stroke="#222" stroke-width="0.45">0.80</text>
<text x="421.1" y="253.6" font-size="7.5" fill="#222" textLength="15.2" lengthAdjust="spacingAndGlyphs" transform="rotate(0.41 421.1 253.6)" stroke="#222" stroke-width="0.45">2.10</text>
<text x="464.5" y="246.6" font-size="7.5" fill="#222" textLength="15.2" lengthAdjust="spacingAndGlyphs" transform="rotate(0.41 464.5 246.6)" stroke="#222" stroke-width="0.45">0.80</text>
<text x="464.5" y="253.6" font-size="7.5" fill="#222" textLength="15.2" lengthAdjust="spacingAndGlyphs" transform="rotate(0.41 464.5 253.6)" stroke="#222" stroke-width="0.45">2.10</text>
<path d="M418.4 247.4L437 247.53" stroke="#2b2b2b" stroke-width="0.7"/>
<path d="M462.2 247.7L480.6 247.83" stroke="#2b2b2b" stroke-width="0.7"/>
<text x="421" y="323.9" font-size="7.5" fill="#222" textLength="15.2" lengthAdjust="spacingAndGlyphs" transform="rotate(0.41 421 323.9)" stroke="#222" stroke-width="0.45">0.80</text>
<text x="421" y="331.1" font-size="7.5" fill="#222" textLength="15.2" lengthAdjust="spacingAndGlyphs" transform="rotate(0.41 421 331.1)" stroke="#222" stroke-width="0.45">2.10</text>
<path d="M418.5 324.7L436.5 324.83" stroke="#2b2b2b" stroke-width="0.7"/>
<text x="594.6" y="256.5" font-size="7.5" fill="#222" textLength="15.4" lengthAdjust="spacingAndGlyphs" transform="rotate(0.41 594.6 256.5)" stroke="#222" stroke-width="0.45">0.90</text>
<text x="594.6" y="263.1" font-size="7.5" fill="#222" textLength="15.4" lengthAdjust="spacingAndGlyphs" transform="rotate(0.41 594.6 263.1)" stroke="#222" stroke-width="0.45">0.90</text>
<text x="390" y="201.9" font-size="7.5" fill="#222" textLength="15" lengthAdjust="spacingAndGlyphs" transform="rotate(90 390 201.9)" stroke="#222" stroke-width="0.45">2.10</text>
<text x="384.3" y="201.9" font-size="7.5" fill="#222" textLength="15" lengthAdjust="spacingAndGlyphs" transform="rotate(90 384.3 201.9)" stroke="#222" stroke-width="0.45">0.80</text>
<path d="M389.5 201L389.35 221.5" stroke="#2b2b2b" stroke-width="0.7"/>
<text x="453.1" y="201.9" font-size="7.5" fill="#222" textLength="15" lengthAdjust="spacingAndGlyphs" transform="rotate(90 453.1 201.9)" stroke="#222" stroke-width="0.45">0.80</text>
<text x="446.9" y="201.9" font-size="7.5" fill="#222" textLength="15" lengthAdjust="spacingAndGlyphs" transform="rotate(90 446.9 201.9)" stroke="#222" stroke-width="0.45">2.10</text>
<path d="M452.1 201L451.95 221.5" stroke="#2b2b2b" stroke-width="0.7"/>
<text x="342" y="78.7" font-size="7.5" fill="#222" textLength="13.6" lengthAdjust="spacingAndGlyphs" transform="rotate(-90 342 78.7)" stroke="#222" stroke-width="0.45">1.20</text>
<text x="349.6" y="78.7" font-size="7.5" fill="#222" textLength="13.6" lengthAdjust="spacingAndGlyphs" transform="rotate(-90 349.6 78.7)" stroke="#222" stroke-width="0.45">1.20</text>
<text x="501" y="80" font-size="7.5" fill="#222" textLength="13.6" lengthAdjust="spacingAndGlyphs" transform="rotate(-90 501 80)" stroke="#222" stroke-width="0.45">1.20</text>
<text x="509" y="80" font-size="7.5" fill="#222" textLength="13.6" lengthAdjust="spacingAndGlyphs" transform="rotate(-90 509 80)" stroke="#222" stroke-width="0.45">1.20</text>
<text x="197" y="433.5" font-size="7.5" fill="#222" textLength="14" lengthAdjust="spacingAndGlyphs" transform="rotate(-90 197 433.5)" stroke="#222" stroke-width="0.45">1.20</text>
<text x="204" y="433.5" font-size="7.5" fill="#222" textLength="14" lengthAdjust="spacingAndGlyphs" transform="rotate(-90 204 433.5)" stroke="#222" stroke-width="0.45">1.80</text>
<text x="338.5" y="445" font-size="7.5" fill="#222" textLength="14" lengthAdjust="spacingAndGlyphs" transform="rotate(-90 338.5 445)" stroke="#222" stroke-width="0.45">1.20</text>
<text x="346" y="445" font-size="7.5" fill="#222" textLength="14" lengthAdjust="spacingAndGlyphs" transform="rotate(-90 346 445)" stroke="#222" stroke-width="0.45">2.80</text>
<text x="508.7" y="435.7" font-size="7.5" fill="#222" textLength="14.5" lengthAdjust="spacingAndGlyphs" transform="rotate(-90 508.7 435.7)" stroke="#222" stroke-width="0.45">1.20</text>
<text x="515.7" y="435.7" font-size="7.5" fill="#222" textLength="14.5" lengthAdjust="spacingAndGlyphs" transform="rotate(-90 515.7 435.7)" stroke="#222" stroke-width="0.45">1.60</text>
<text x="323.1" y="345.9" font-size="16.4" fill="#222" transform="rotate(0.41 323.1 345.9)" text-anchor="middle" stroke="#222" stroke-width="0.15">3</text>
<text x="383.3" y="360.7" font-size="7.6" fill="#222" transform="rotate(0.41 383.3 360.7)" text-anchor="middle" stroke="#222" stroke-width="0.5">1</text>
<text x="393.9" y="360.7" font-size="7.6" fill="#222" transform="rotate(0.41 393.9 360.7)" text-anchor="middle" stroke="#222" stroke-width="0.5">2</text>
<text x="412.3" y="360.8" font-size="7.6" fill="#222" transform="rotate(0.41 412.3 360.8)" text-anchor="middle" stroke="#222" stroke-width="0.5">3</text>
<text x="412.3" y="376.4" font-size="7.6" fill="#222" transform="rotate(0.41 412.3 376.4)" text-anchor="middle" stroke="#222" stroke-width="0.5">4</text>
<text x="412.3" y="387.8" font-size="7.6" fill="#222" transform="rotate(0.41 412.3 387.8)" text-anchor="middle" stroke="#222" stroke-width="0.5">5</text>
<text x="412.3" y="405" font-size="7.6" fill="#222" transform="rotate(0.41 412.3 405)" text-anchor="middle" stroke="#222" stroke-width="0.5">6</text>
<text x="394.1" y="405" font-size="7.6" fill="#222" transform="rotate(0.41 394.1 405)" text-anchor="middle" stroke="#222" stroke-width="0.5">7</text>
<text x="381.6" y="404.9" font-size="7.6" fill="#222" transform="rotate(0.41 381.6 404.9)" text-anchor="middle" stroke="#222" stroke-width="0.5">8</text>
<text x="365.5" y="404.9" font-size="7.6" fill="#222" transform="rotate(0.41 365.5 404.9)" text-anchor="middle" stroke="#222" stroke-width="0.5">9</text>
<text x="311" y="531.5" font-size="25.4" fill="#333" textLength="159.5" lengthAdjust="spacingAndGlyphs" transform="rotate(0.41 311 531.5)" stroke="#333" stroke-width="0.3">PLANIMETRIA</text>
<text x="478.6" y="532.7" font-size="25.4" fill="#333" textLength="81.8" lengthAdjust="spacingAndGlyphs" transform="rotate(0.41 478.6 532.7)" stroke="#333" stroke-width="0.3">PRIMO</text>
<text x="568.6" y="533.1" font-size="25.4" fill="#333" textLength="74.2" lengthAdjust="spacingAndGlyphs" transform="rotate(0.41 568.6 533.1)" stroke="#333" stroke-width="0.3">PIANO</text>
<path d="M755.6 404L755 414" stroke="#8a8a8a" stroke-width="1.1"/>
<path d="M750.5 458L752.3 492" stroke="#e4e4e4" stroke-width="0.8"/>
<path d="M752.3 492L753.8 510" stroke="#c4c4c4" stroke-width="0.9"/>
<path d="M753.8 510L755.3 531" stroke="#9c9c9c" stroke-width="1.1"/>
<path d="M786 505L786 562" stroke="#ececec" stroke-width="0.8"/>
<circle cx="668.5" cy="193" r="0.5" stroke="#aaa" stroke-width="0.2" fill="#999"/>
<circle cx="648" cy="234.2" r="0.5" stroke="#aaa" stroke-width="0.2" fill="#999"/>
<circle cx="207.5" cy="245.5" r="0.45" stroke="#bbb" stroke-width="0.2" fill="#aaa"/>
</svg>
</body></html>
